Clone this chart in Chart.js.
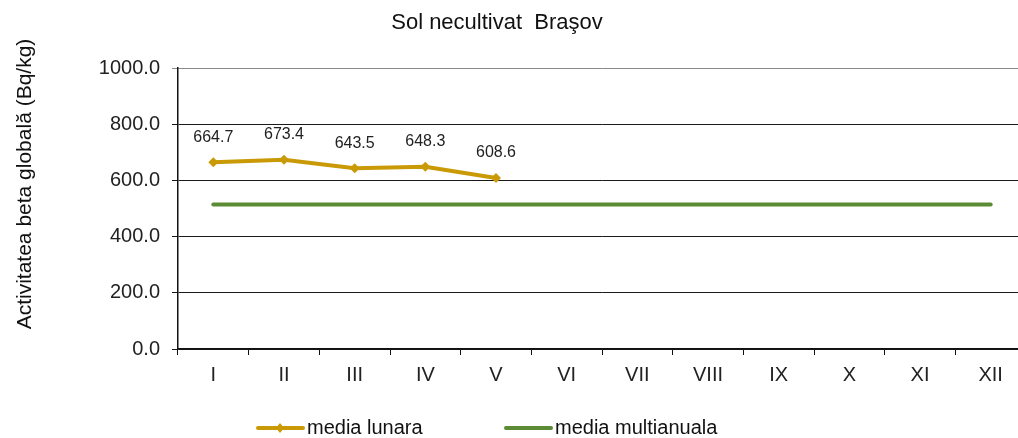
<!DOCTYPE html>
<html lang="ro">
<head>
  <meta charset="UTF-8">
  <title>Sol necultivat Braşov</title>
  <script src="https://cdn.jsdelivr.net/npm/chart.js"></script>
  <style>
    html, body { margin: 0; padding: 0; background: #fff; overflow: hidden; }
    .wrap { width: 1040px; height: 438px; position: relative; }
  </style>
</head>
<body>
<div class="wrap">
  <canvas id="chartSol" width="1040" height="438"></canvas>
</div>

<script>
// date
const luni = ['I', 'II', 'III', 'IV', 'V', 'VI', 'VII', 'VIII', 'IX', 'X', 'XI', 'XII'];
const mediaLunara = [664.7, 673.4, 643.5, 648.3, 608.6, null, null, null, null, null, null, null];
const mediaMultianuala = [514, 514, 514, 514, 514, 514, 514, 514, 514, 514, 514, 514];
const yTicks = [0, 200, 400, 600, 800, 1000];

const culoareLunara = '#C99A06';
const culoareMulti = '#5B8C35';
const fontFam = '"Liberation Sans", Arial, sans-serif';

// eticheta valorilor + titlu + legenda desenate pe canvas
const extraPlugin = {
  id: 'extra',
  afterDatasetsDraw(chart) {
    const ctx = chart.ctx;
    const meta = chart.getDatasetMeta(0);
    ctx.save();
    ctx.font = '16px ' + fontFam;
    ctx.fillStyle = '#222';
    ctx.textAlign = 'center';
    ctx.textBaseline = 'middle';
    meta.data.forEach((pt, i) => {
      const v = mediaLunara[i];
      if (v === null) return;
      ctx.fillText(v.toFixed(1), pt.x, pt.y - 25);
    });
    ctx.restore();
  },
  afterDraw(chart) {
    const ctx = chart.ctx;
    ctx.save();
    // titlu
    ctx.font = '22px ' + fontFam;
    ctx.fillStyle = '#111';
    ctx.textAlign = 'center';
    ctx.textBaseline = 'middle';
    ctx.fillText('Sol necultivat  Braşov', 497, 23);

    // titlul axei Y
    ctx.save();
    ctx.translate(25, 184);
    ctx.rotate(-Math.PI / 2);
    ctx.font = '21px ' + fontFam;
    ctx.fillText('Activitatea beta globală (Bq/kg)', 0, 0);
    ctx.restore();

    // legenda
    const ly = 428;
    ctx.lineWidth = 4;
    ctx.lineCap = 'round';
    ctx.strokeStyle = culoareLunara;
    ctx.beginPath(); ctx.moveTo(258, ly); ctx.lineTo(303, ly); ctx.stroke();
    ctx.fillStyle = culoareLunara;
    ctx.beginPath();
    ctx.moveTo(280, ly - 5); ctx.lineTo(284, ly); ctx.lineTo(280, ly + 5); ctx.lineTo(276, ly);
    ctx.closePath(); ctx.fill();
    ctx.strokeStyle = culoareMulti;
    ctx.beginPath(); ctx.moveTo(506, ly); ctx.lineTo(551, ly); ctx.stroke();

    ctx.font = '20px ' + fontFam;
    ctx.fillStyle = '#111';
    ctx.textAlign = 'left';
    ctx.fillText('media lunara', 307, ly);
    ctx.fillText('media multianuala', 555, ly);
    ctx.restore();
  }
};

new Chart(document.getElementById('chartSol'), {
  type: 'line',
  data: {
    labels: luni,
    datasets: [
      {
        label: 'media lunara',
        data: mediaLunara,
        borderColor: culoareLunara,
        backgroundColor: culoareLunara,
        borderWidth: 4,
        pointStyle: 'rectRot',
        pointRadius: 5,
        pointBorderWidth: 0,
        tension: 0,
        spanGaps: false
      },
      {
        label: 'media multianuala',
        data: mediaMultianuala,
        borderColor: culoareMulti,
        backgroundColor: culoareMulti,
        borderWidth: 4,
        borderCapStyle: 'round',
        pointRadius: 0,
        tension: 0
      }
    ]
  },
  options: {
    responsive: false,
    animation: false,
    layout: { padding: { left: 0, right: 14, top: 68, bottom: 0 } },
    plugins: {
      legend: { display: false },
      title: { display: false },
      tooltip: { enabled: false }
    },
    scales: {
      x: {
        offset: true,
        grid: {
          offset: true,
          drawOnChartArea: false,
          drawTicks: true,
          tickLength: 6,
          color: '#111'
        },
        border: { color: '#111', width: 1.5 },
        ticks: {
          color: '#222',
          font: { size: 20, family: fontFam },
          padding: 8,
          maxRotation: 0
        },
        afterFit(scale) { scale.height = 89; }
      },
      y: {
        min: 0,
        max: 1000,
        afterBuildTicks(scale) { scale.ticks = yTicks.map(v => ({ value: v })); },
        grid: {
          color: ctx => (ctx.tick && ctx.tick.value === 1000) ? '#8a8a8a' : '#1a1a1a',
          lineWidth: 1,
          tickLength: 6
        },
        border: { color: '#111', width: 1.5 },
        ticks: {
          color: '#222',
          font: { size: 20, family: fontFam },
          padding: 12,
          callback: v => Number(v).toFixed(1)
        },
        afterFit(scale) { scale.width = 178; }
      }
    }
  },
  plugins: [extraPlugin]
});
</script>
</body>
</html>
